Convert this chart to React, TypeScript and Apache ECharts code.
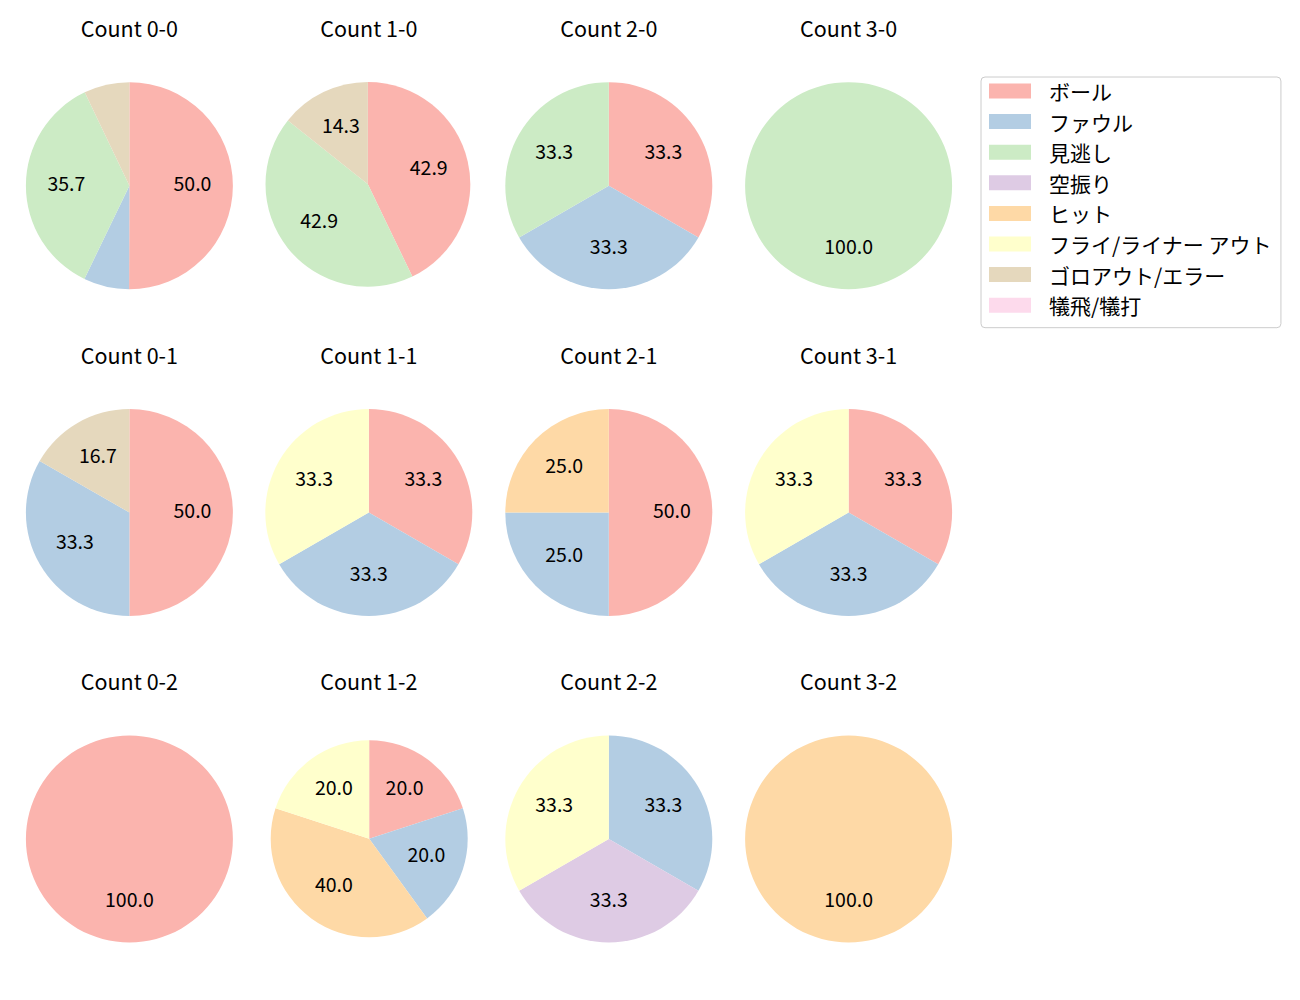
import React, { useEffect, useRef } from "react";
import * as echarts from "echarts";

// ---- data ----
const categories = [
  "ボール",
  "ファウル",
  "見逃し",
  "空振り",
  "ヒット",
  "フライ/ライナー アウト",
  "ゴロアウト/エラー",
  "犠飛/犠打",
];

const countTitles = [
  "Count 0-0", "Count 1-0", "Count 2-0", "Count 3-0",
  "Count 0-1", "Count 1-1", "Count 2-1", "Count 3-1",
  "Count 0-2", "Count 1-2", "Count 2-2", "Count 3-2",
];

// percentages per category (same order as categories)
const count00 = [50.0, 7.1, 35.7, 0, 0, 0, 7.1, 0];
const count10 = [42.9, 0, 42.9, 0, 0, 0, 14.3, 0];
const count20 = [33.3, 33.3, 33.3, 0, 0, 0, 0, 0];
const count30 = [0, 0, 100.0, 0, 0, 0, 0, 0];
const count01 = [50.0, 33.3, 0, 0, 0, 0, 16.7, 0];
const count11 = [33.3, 33.3, 0, 0, 0, 33.3, 0, 0];
const count21 = [50.0, 25.0, 0, 0, 25.0, 0, 0, 0];
const count31 = [33.3, 33.3, 0, 0, 0, 33.3, 0, 0];
const count02 = [100.0, 0, 0, 0, 0, 0, 0, 0];
const count12 = [20.0, 20.0, 0, 0, 40.0, 20.0, 0, 0];
const count22 = [0, 33.3, 0, 33.3, 0, 33.3, 0, 0];
const count32 = [0, 0, 0, 0, 100.0, 0, 0, 0];

const countValues = [
  count00, count10, count20, count30,
  count01, count11, count21, count31,
  count02, count12, count22, count32,
];

// ---- layout / style ----
const palette = ["#fbb4ae", "#b3cde3", "#ccebc5", "#decbe4", "#fed9a6", "#ffffcc", "#e5d8bd", "#fddaec"];
const colX = [129.4, 368.8, 608.8, 848.6];
const rowY = [185.7, 512.5, 839.0];
const titleY = [27.5, 354.5, 680.5];
const defaultR = 103.5;
const labelRadiusFactor = 1.16;
const labelShiftY = -3.5;
const specialLayout: Record<number, { cx: number; cy: number; r: number }> = {
  1: { cx: 367.9, cy: 184.3, r: 102.4 },
  9: { cx: 369.2, cy: 838.7, r: 98.5 },
};
const FONT = "'Noto Sans CJK JP', 'Noto Sans', sans-serif";

function buildOption() {
  const series: any[] = [];
  const labelSeries: any[] = [];
  const graphics: any[] = [];
  countValues.forEach((vals, i) => {
    const col = i % 4;
    const row = Math.floor(i / 4);
    const lay = specialLayout[i] || { cx: colX[col], cy: rowY[row], r: defaultR };
    const data = categories.map((name, k) => ({
      name,
      value: vals[k],
      itemStyle: { color: palette[k] },
    }));
    series.push({
      type: "pie",
      name: countTitles[i],
      center: [lay.cx, lay.cy],
      radius: [0, lay.r],
      startAngle: 90,
      clockwise: true,
      label: { show: false },
      labelLine: { show: false },
      itemStyle: { borderWidth: 0 },
      emphasis: { disabled: true },
      silent: true,
      data,
    });
    labelSeries.push({
      type: "pie",
      name: countTitles[i] + " labels",
      center: [lay.cx, lay.cy + labelShiftY],
      radius: [0, lay.r * labelRadiusFactor],
      startAngle: 90,
      clockwise: true,
      silent: true,
      emphasis: { disabled: true },
      itemStyle: { color: "rgba(0,0,0,0)", borderWidth: 0 },
      labelLine: { show: false },
      label: {
        show: true,
        position: "inside",
        fontFamily: FONT,
        fontSize: 19.5,
        color: "#000",
        formatter: (p: any) => (p.value >= 10 ? Number(p.value).toFixed(1) : ""),
      },
      data: categories.map((name, k) => ({ name, value: vals[k] })),
    });
    graphics.push({
      type: "text",
      x: colX[col],
      y: titleY[row],
      style: {
        text: countTitles[i],
        fontFamily: FONT,
        fontSize: 21.5,
        fill: "#000",
        align: "center",
        verticalAlign: "middle",
      },
    });
  });

  return {
    animation: false,
    backgroundColor: "#ffffff",
    legend: {
      orient: "vertical",
      left: 981,
      top: 77,
      data: categories,
      icon: "rect",
      itemWidth: 42,
      itemHeight: 15,
      itemGap: 9.6,
      padding: [3.5, 9, 12, 8],
      borderColor: "#cccccc",
      borderWidth: 1,
      borderRadius: 4,
      selectedMode: false,
      textStyle: {
        fontFamily: FONT,
        fontSize: 21,
        color: "#000",
        padding: [0, 0, 0, 13],
      },
    },
    series: [...series, ...labelSeries],
    graphic: graphics,
  };
}

export default function App() {
  const ref = useRef<HTMLDivElement>(null);
  useEffect(() => {
    if (!ref.current) return;
    const chart = echarts.init(ref.current, undefined, { renderer: "svg" });
    chart.setOption(buildOption() as any);
    return () => chart.dispose();
  }, []);
  return (
    <div
      ref={ref}
      style={{ position: "absolute", left: 0, top: 0, width: 1300, height: 1000, background: "#fff" }}
    />
  );
}
